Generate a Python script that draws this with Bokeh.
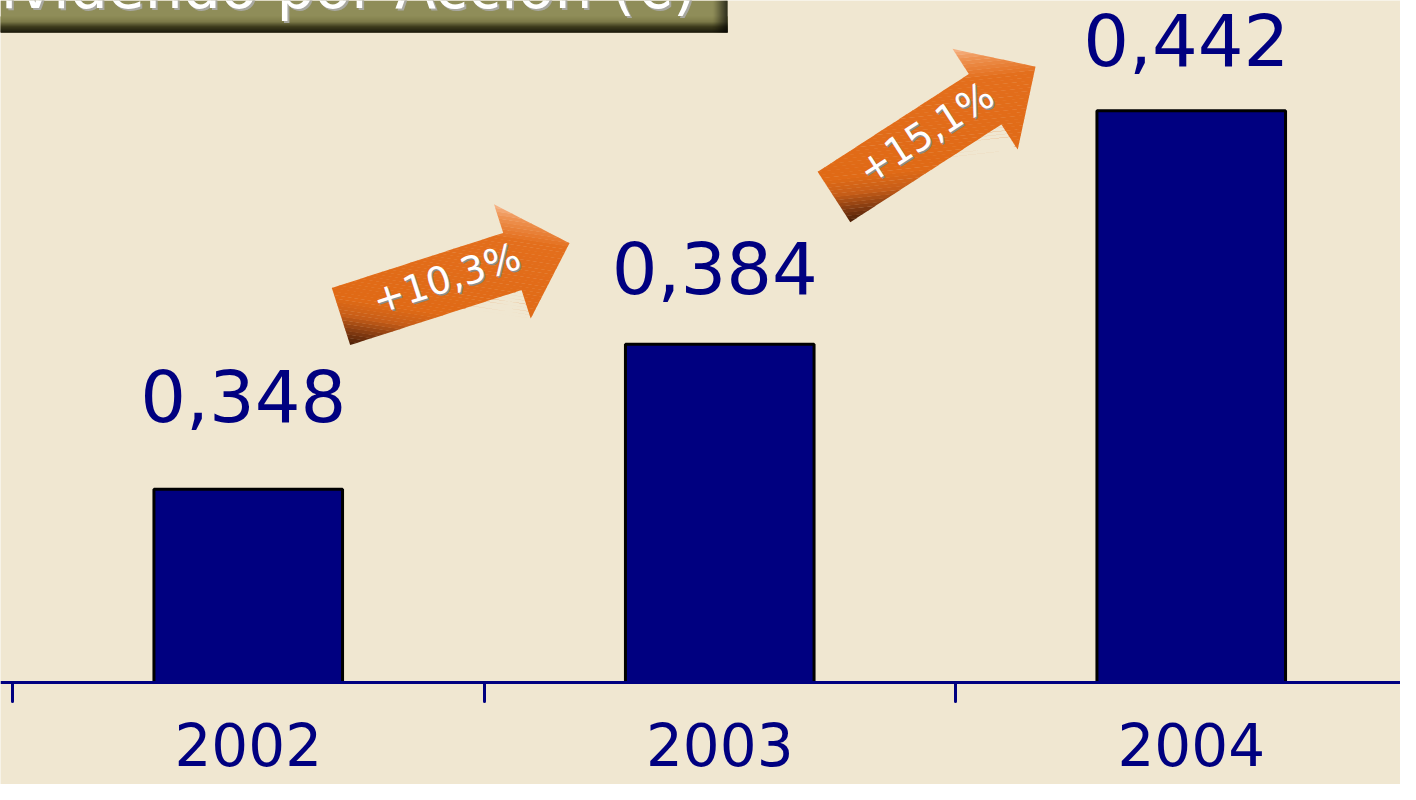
import math
from bokeh.plotting import figure
from bokeh.models import Range1d, LinearAxis, FixedTicker
from bokeh.core.properties import value
from bokeh.embed import file_html
from bokeh.resources import INLINE

# ---------------- data ----------------
years = ["2002", "2003", "2004"]
dividends = [0.348, 0.384, 0.442]
title_text = "Dividendo por Acción (€)"
axis_base = 0.30


def fmt(v, d):
    return f"{v:.{d}f}".replace(".", ",")


value_labels = [fmt(v, 3) for v in dividends]
growth = [dividends[i + 1] / dividends[i] - 1 for i in range(len(dividends) - 1)]
growth_labels = ["+" + fmt(g * 100, 1) + "%" for g in growth]

# ---------------- styles ----------------
BG = "#F0E7D1"
NAVY = "#000080"
FONT = "DejaVu Sans"
W, H = 1400, 784

# pixel -> data mapping (figure pixel coordinates)
CAT_LEFT = 12.0      # x of the left edge of first category
CAT_PX = 471.5       # px per category
BASE_Y = 682.0       # y of axis baseline
VAL_PX = 4027.0      # px per unit value


def X(px):
    return (px - CAT_LEFT) / CAT_PX - 0.5


def Y(py):
    return axis_base + (BASE_Y - py) / VAL_PX


p = figure(width=W, height=H,
           x_range=Range1d(X(0), X(W)),
           y_range=Range1d(Y(H), Y(0)),
           output_backend="svg", toolbar_location=None,
           x_axis_location=None, y_axis_location=None,
           min_border=0, background_fill_color=BG, border_fill_color=BG,
           outline_line_color=None)
p.grid.visible = False


def lerp_color(stops, g):
    g = max(0.0, min(1.0, g))
    for (g0, c0), (g1, c1) in zip(stops[:-1], stops[1:]):
        if g0 <= g <= g1:
            f = 0 if g1 == g0 else (g - g0) / (g1 - g0)
            a = [int(c0[i:i + 2], 16) for i in (1, 3, 5)]
            b = [int(c1[i:i + 2], 16) for i in (1, 3, 5)]
            return "#%02x%02x%02x" % tuple(round(a[k] + f * (b[k] - a[k])) for k in range(3))
    return stops[-1][1]


# ---------------- title box (partially cut off at top, as in the slide) ----------------
box_l, box_r, box_t, box_b = 0, 727, 0, 32
OLIVE = "#8F8D59"
p.quad(left=[X(box_l)], right=[X(box_r)], top=[Y(box_t)], bottom=[Y(box_b)],
       fill_color=OLIVE, line_color=None)
v_stops = [(0.0, OLIVE), (0.35, "#7A7848"), (0.65, "#3A3819"), (1.0, "#15140A")]
y0 = 16
strips_t, strips_b, strips_c = [], [], []
for k in range(box_b - y0):
    strips_t.append(Y(y0 + k))
    strips_b.append(Y(y0 + k + 1))
    strips_c.append(lerp_color(v_stops, (k + 0.5) / (box_b - y0)))
p.quad(left=X(box_l), right=X(box_r), top=strips_t, bottom=strips_b,
       fill_color=strips_c, line_color=strips_c, line_width=0.5)
x0 = 712
sl, sr, sa = [], [], []
for k in range(box_r - x0):
    sl.append(X(x0 + k))
    sr.append(X(x0 + k + 1))
    sa.append(0.85 * ((k + 0.5) / (box_r - x0)) ** 1.3)
p.quad(left=sl, right=sr, top=Y(box_t), bottom=Y(box_b),
       fill_color="black", fill_alpha=sa, line_color=None)

p.text(x=[X(696)], y=[Y(12)], text=[title_text], text_font=value(FONT),
       text_font_size="60px", text_color="#A8A8A0", text_align="right",
       text_baseline="alphabetic", x_offset=2, y_offset=-24)
p.text(x=[X(696)], y=[Y(12)], text=[title_text], text_font=value(FONT),
       text_font_size="60px", text_color="white", text_align="right",
       text_baseline="alphabetic", y_offset=-26)

# ---------------- bars ----------------
cats = list(range(len(years)))
p.vbar(x=cats, top=dividends, bottom=axis_base, width=0.40,
       fill_color=NAVY, line_color="black", line_width=3)

p.text(x=cats, y=dividends, text=value_labels, text_font=value(FONT),
       text_font_size="72px", text_color=NAVY, text_align="center",
       text_baseline="alphabetic", x_offset=-5, y_offset=[-94, -77, -71])

# ---------------- axis ----------------
xaxis = LinearAxis(fixed_location=axis_base,
                   ticker=FixedTicker(ticks=cats,
                                      minor_ticks=[c - 0.5 for c in range(len(years) + 1)]))
xaxis.major_label_overrides = {c: y for c, y in zip(cats, years)}
xaxis.axis_line_color = NAVY
xaxis.axis_line_width = 3
xaxis.major_tick_in = 0
xaxis.major_tick_out = 0
xaxis.minor_tick_in = 0
xaxis.minor_tick_out = 19
xaxis.minor_tick_line_color = NAVY
xaxis.minor_tick_line_width = 3
xaxis.minor_tick_line_cap = "round"
xaxis.major_label_text_font = FONT
xaxis.major_label_text_font_size = "58px"
xaxis.major_label_text_color = NAVY
xaxis.major_label_standoff = 21
p.add_layout(xaxis, "below")

# ---------------- growth arrows ----------------
arrows = [((340.5, 316.0), 17.8), ((833.5, 196.5), 32.9)]
ARR_LEN, SHAFT_HW, HEAD_HW, HEAD_START = 240, 30, 60, 180
local_poly = [(0, SHAFT_HW), (HEAD_START, SHAFT_HW), (HEAD_START, HEAD_HW), (ARR_LEN, 0),
              (HEAD_START, -HEAD_HW), (HEAD_START, -SHAFT_HW), (0, -SHAFT_HW)]
a_stops = [(0.0, "#4A1E06"), (0.07, "#7A3610"), (0.18, "#C85E18"), (0.28, "#E06A16"),
           (0.80, "#E36E1C"), (0.93, "#EE9352"), (1.0, "#F7B88C")]


def clip(poly, a, b, c):
    out = []
    n = len(poly)
    for i in range(n):
        P, Q = poly[i], poly[(i + 1) % n]
        fp = a * P[0] + b * P[1] - c
        fq = a * Q[0] + b * Q[1] - c
        if fp >= 0:
            out.append(P)
        if (fp >= 0) != (fq >= 0):
            t = fp / (fp - fq)
            out.append((P[0] + t * (Q[0] - P[0]), P[1] + t * (Q[1] - P[1])))
    return out


gvals = [s + 2 * t for s, t in local_poly]
gmin, gmax = min(gvals), max(gvals)
NB = 48
for ((mx, my), th_deg), label in zip(arrows, growth_labels):
    th = math.radians(th_deg)
    c, s_ = math.cos(th), math.sin(th)

    def to_data(pt):
        s, t = pt
        sx = mx + s * c - t * s_
        sy = my - s * s_ - t * c
        return X(sx), Y(sy)

    xs, ys, cols = [], [], []
    for k in range(NB):
        g0 = gmin + (gmax - gmin) * k / NB
        g1 = gmin + (gmax - gmin) * (k + 1) / NB
        poly = clip(local_poly, 1, 2, g0 - 0.4)
        poly = clip(poly, -1, -2, -(g1 + 0.4))
        if len(poly) < 3:
            continue
        pts = [to_data(q) for q in poly]
        xs.append([q[0] for q in pts])
        ys.append([q[1] for q in pts])
        cols.append(lerp_color(a_stops, (k + 0.5) / NB))
    p.patches(xs=xs, ys=ys, fill_color=cols, line_color=None)

    tx, ty = to_data((112, 4))
    p.text(x=[tx], y=[ty], text=[label], angle=th, text_font=value(FONT),
           text_font_size="38px", text_color="#8C8C8C", text_align="center",
           text_baseline="middle", x_offset=1.5, y_offset=1.5)
    p.text(x=[tx], y=[ty], text=[label], angle=th, text_font=value(FONT),
           text_font_size="38px", text_color="white", text_align="center",
           text_baseline="middle")

open("out.html", "w").write(file_html(p, INLINE))
